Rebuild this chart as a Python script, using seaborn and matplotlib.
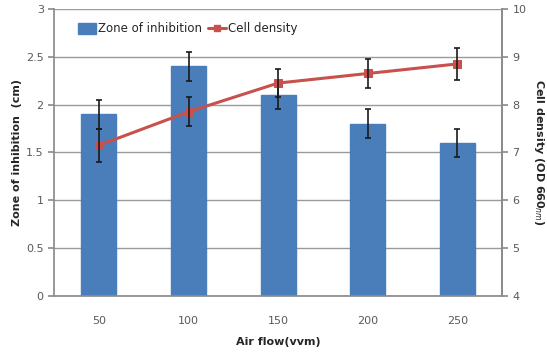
import matplotlib
matplotlib.use("Agg")
import matplotlib.pyplot as plt
import seaborn as sns
import numpy as np
import pandas as pd
from matplotlib.patches import Patch
from matplotlib.lines import Line2D

air_flow = ["50", "100", "150", "200", "250"]
zone_inhibition = [1.9, 2.4, 2.1, 1.8, 1.6]
zone_err = [0.15, 0.15, 0.15, 0.15, 0.15]
cell_density = [7.15, 7.85, 8.45, 8.65, 8.85]
cell_err = [0.35, 0.3, 0.3, 0.3, 0.33]

sns.set_theme(style="white")
plt.rcParams['font.family'] = ['Liberation Sans Narrow', 'DejaVu Sans']

bar_color = "#4a7ebb"
line_color = "#c8504d"

df = pd.DataFrame({"air": air_flow, "zone": zone_inhibition, "cell": cell_density})

fig = plt.figure(figsize=(5.47, 3.55), dpi=100)
ax = fig.add_axes([0.099, 0.166, 0.819, 0.809])

sns.barplot(data=df, x="air", y="zone", color=bar_color, width=0.39,
            saturation=1, ax=ax, errorbar=None, edgecolor=bar_color)
pos = np.arange(len(air_flow))
ax.errorbar(pos, zone_inhibition, yerr=zone_err, fmt="none", ecolor="#1a1a1a",
            elinewidth=1.2, capsize=2.5, capthick=1.2, zorder=5)

ax.set_ylim(0, 3)
ax.set_yticks(np.arange(0, 3.01, 0.5))
ax.set_yticklabels(["0", "0.5", "1", "1.5", "2", "2.5", "3"])
ax.set_xlim(-0.5, 4.5)
ax.yaxis.grid(True, color="#9a9a9a", linewidth=1.0)
ax.set_axisbelow(True)
ax.spines["top"].set_visible(False)
for s in ["left", "bottom", "right"]:
    ax.spines[s].set_color("#8c8c8c")
ax.set_xlabel("Air flow(vvm)", fontsize=8, fontweight="bold", color="#262626", labelpad=8)
ax.set_ylabel("Zone of inhibition  (cm)", fontsize=8, fontweight="bold", color="#262626",
              labelpad=3)
ax.tick_params(axis="both", labelsize=8, colors="#595959", length=0)
ax.tick_params(axis="y", length=4, direction="out", color="#8c8c8c")
ax.set_xticks(pos, minor=False)
ax.set_xticks(np.arange(0.5, 4, 1), minor=True)
ax.tick_params(axis="x", which="minor", length=4, direction="out", color="#8c8c8c")
ax.tick_params(axis="x", which="major", pad=14)

ax2 = ax.twinx()
ax2.errorbar(pos, cell_density, yerr=cell_err, fmt="none", ecolor="#1a1a1a",
             elinewidth=1.2, capsize=2.5, capthick=1.2, zorder=6)
sns.lineplot(x=pos, y=cell_density, color=line_color, marker="s", markersize=6,
             markeredgecolor=line_color, linewidth=2.2, ax=ax2, zorder=5)
ax2.set_ylim(4, 10)
ax2.set_yticks(np.arange(4, 10.01, 1))
ax2.set_ylabel("Cell density (OD 660$_{nm}$)", fontsize=8, fontweight="bold",
               color="#262626", rotation=270, labelpad=14)
ax2.tick_params(axis="y", labelsize=8, colors="#595959", length=4, direction="out")
ax2.tick_params(axis="y", color="#8c8c8c")
for s in ["top", "left", "bottom"]:
    ax2.spines[s].set_visible(False)
ax2.spines["right"].set_color("#8c8c8c")

handles = [Patch(facecolor=bar_color, edgecolor=bar_color),
           Line2D([0], [0], color=line_color, marker="s", markersize=5, linewidth=2.2)]
ax.legend(handles, ["Zone of inhibition", "Cell density"], loc="upper left",
          bbox_to_anchor=(0.03, 0.99), ncol=2, frameon=False, fontsize=8.5,
          handlelength=1.5, handleheight=1.1, handletextpad=0.2, columnspacing=0.5)

fig.savefig("out.png", dpi=100)
